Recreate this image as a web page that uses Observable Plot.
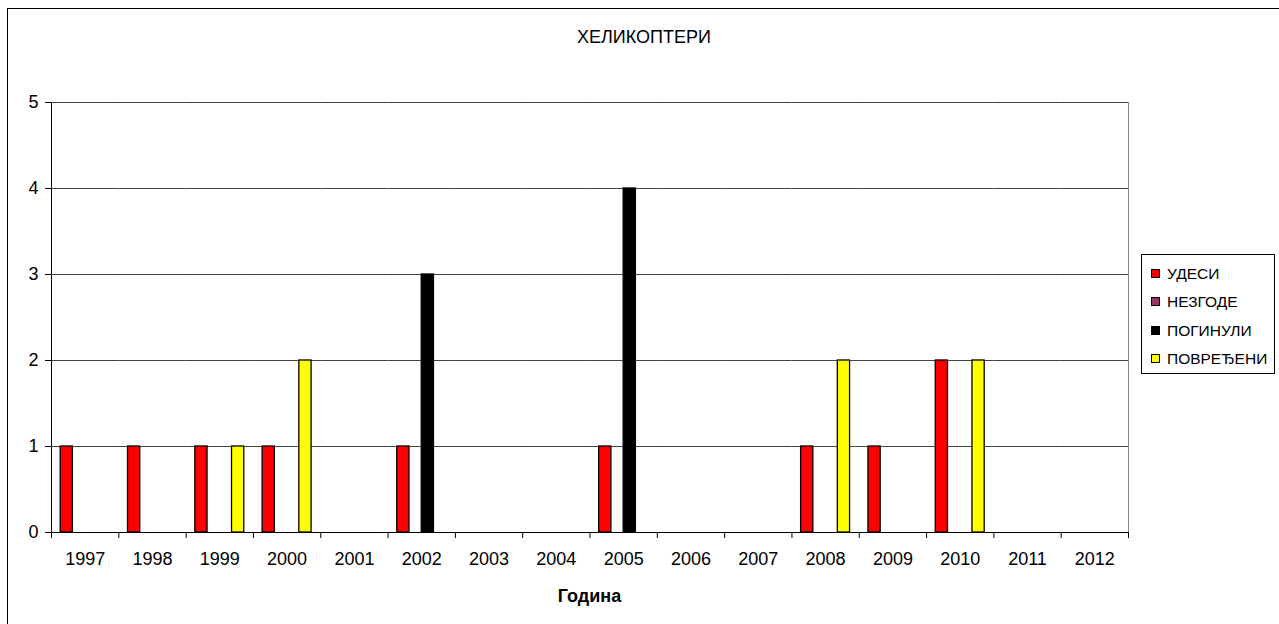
<!DOCTYPE html>
<html><head><meta charset="utf-8">
<script src="https://cdn.jsdelivr.net/npm/d3@7"></script>
<script src="https://cdn.jsdelivr.net/npm/@observablehq/plot@0.6"></script>
<style>
body{margin:0;background:#fff;font-family:"Liberation Sans",Arial,sans-serif;}
#wrap{position:relative;width:1279px;height:624px;overflow:hidden;background:#fff;}
#chart{position:absolute;left:0;top:0;}
#border{position:absolute;left:7px;top:8px;width:1300px;height:650px;border:1.5px solid #000;pointer-events:none;}
#title{position:absolute;left:0;width:1288px;top:27px;text-align:center;font-size:18px;color:#000;}
#xlabel{position:absolute;left:51px;width:1077px;top:586px;text-align:center;font-size:18px;font-weight:bold;color:#000;}
#legend{position:absolute;left:1141px;top:254px;width:134px;height:120px;border:1px solid #000;box-sizing:border-box;}
.li{position:absolute;left:9px;height:18px;font-size:15.5px;line-height:18px;white-space:nowrap;color:#000;}
.sw{display:inline-block;width:7px;height:7px;border:1px solid #000;margin-right:7px;vertical-align:1px;}
</style></head>
<body>
<div id="wrap">
  <div id="chart"></div>
  <div id="title">ХЕЛИКОПТЕРИ</div>
  <div id="xlabel">Година</div>
  <div id="legend"></div>
  <div id="border"></div>
</div>
<script>
const years = ["1997","1998","1999","2000","2001","2002","2003","2004","2005","2006","2007","2008","2009","2010","2011","2012"];
const series = ["УДЕСИ","НЕЗГОДЕ","ПОГИНУЛИ","ПОВРЕЂЕНИ"];
const udesi      = [1,1,1,1,0,1,0,0,1,0,0,1,1,2,0,0];
const nezgode    = [0,0,0,0,0,0,0,0,0,0,0,0,0,0,0,0];
const poginuli   = [0,0,0,0,0,3,0,0,4,0,0,0,0,0,0,0];
const povredjeni = [0,0,1,2,0,0,0,0,0,0,0,2,0,2,0,0];
const yTicks = [0,1,2,3,4,5];
const colors = ["#FF0000","#993366","#000000","#FFFF00"];

const seriesValues = [udesi, nezgode, poginuli, povredjeni];
const table = [];
years.forEach((y, i) => series.forEach((s, k) => table.push({year: y, series: s, value: seriesValues[k][i]})));

const W = 1279, H = 624, mL = 51, mR = 151, mT = 102, mB = 92;
const step = (W - mL - mR) / years.length;

const chart = Plot.plot({
  width: W, height: H,
  marginLeft: mL, marginRight: mR, marginTop: mT, marginBottom: mB,
  style: {fontFamily: "Liberation Sans, Arial, sans-serif", fontSize: "18px", color: "#000", background: "transparent"},
  fx: {domain: years, padding: 0, round: false, label: null},
  x: {domain: series, paddingInner: 0, paddingOuter: 0.75, round: false, axis: null},
  y: {domain: [0, 5], label: null, ticks: yTicks, tickSize: 6, tickPadding: 7, tickFormat: d3.format("d"), line: true},
  color: {domain: series, range: colors},
  marks: [
    Plot.ruleY(yTicks.slice(1), {stroke: "#444", strokeWidth: 1}),
    Plot.barY(table, {fx: "year", x: "series", y: "value", fill: "series", stroke: "#000", strokeWidth: 1.3, filter: d => d.value > 0}),
    Plot.ruleY([0], {stroke: "#000"}),
    Plot.frame({anchor: "left", facet: "super", stroke: "#000"}),
    Plot.frame({anchor: "right", facet: "super", stroke: "#888"}),
    Plot.axisFx({anchor: "bottom", tickSize: 0, tickPadding: 20, label: null}),
    Plot.axisFx({anchor: "bottom", tickSize: 6, text: null, label: null, dx: step / 2}),
    Plot.axisFx({anchor: "bottom", ticks: [years[0]], tickSize: 6, text: null, label: null, dx: -step / 2})
  ]
});
document.getElementById("chart").appendChild(chart);

const legend = document.getElementById("legend");
series.forEach((s, k) => {
  const row = document.createElement("div");
  row.className = "li";
  row.style.top = (10 + k * 28.4) + "px";
  const sw = document.createElement("span");
  sw.className = "sw";
  sw.style.background = colors[k];
  row.appendChild(sw);
  row.appendChild(document.createTextNode(s));
  legend.appendChild(row);
});
</script>
</body></html>
